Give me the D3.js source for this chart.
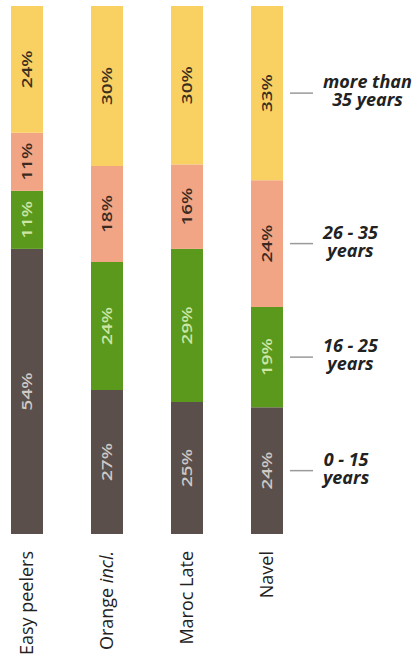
<!DOCTYPE html>
<html>
<head>
<meta charset="utf-8">
<script src="https://cdn.jsdelivr.net/npm/d3@7"></script>
<style>
  html, body { margin: 0; padding: 0; background: #fff; }
  svg { display: block; font-family: "Open Sans", "Noto Sans", sans-serif; }
</style>
</head>
<body>
<svg id="chart" width="416" height="663"></svg>
<script>
// Varieties (bars) and an optional italic qualifier after the name
const categories = ["Easy peelers", "Orange", "Maroc Late", "Navel"];
const qualifiers = ["", "incl.", "", ""];

// Orchard age groups, bottom to top, with their legend lines
const ageKeys = ["a0_15", "a16_25", "a26_35", "a35plus"];
const ageLabels = [["0 - 15", "years"], ["16 - 25", "years"], ["26 - 35", "years"], ["more than", "35 years"]];

// Share of trees per age group (%)
const age0to15   = [54, 27, 25, 24];
const age16to25  = [11, 24, 29, 19];
const age26to35  = [11, 18, 16, 24];
const ageOver35  = [24, 30, 30, 33];

const fills     = ["#5a4f4a", "#5b991d", "#f1a584", "#f9d162"];
const textFills = ["#cfc8c4", "#cde6a4", "#3b2a22", "#3b3020"];

const rows = categories.map((c, i) => ({
  cat: c,
  a0_15: age0to15[i], a16_25: age16to25[i], a26_35: age26to35[i], a35plus: ageOver35[i]
}));

const svg = d3.select("#chart");

const x = d3.scaleBand().domain(categories).range([11, 283]).paddingInner(0.6).paddingOuter(0);
const y = d3.scaleLinear().domain([0, 1]).range([534, 6]);

const series = d3.stack().keys(ageKeys).offset(d3.stackOffsetExpand)(rows);

const layers = svg.selectAll("g.layer").data(series).join("g")
  .attr("class", "layer")
  .attr("fill", (d, i) => fills[i]);

layers.selectAll("rect").data(d => d).join("rect")
  .attr("x", d => x(d.data.cat))
  .attr("width", x.bandwidth())
  .attr("y", d => y(d[1]))
  .attr("height", d => y(d[0]) - y(d[1]));

// Value labels, rotated and stretched along the bar
series.forEach((s, si) => {
  svg.append("g").selectAll("text").data(s).join("text")
    .attr("transform", d => `translate(${x(d.data.cat) + x.bandwidth() / 2},${(y(d[0]) + y(d[1])) / 2}) rotate(-90) scale(1.35,1)`)
    .attr("text-anchor", "middle")
    .attr("dy", "0.36em")
    .attr("font-size", 14)
    .attr("font-weight", 600)
    .attr("fill", textFills[si])
    .text(d => d.data[s.key] + "%");
});

// Category labels under the bars
const catLabels = svg.append("g").selectAll("text").data(categories).join("text")
  .attr("transform", d => `translate(${x(d) + x.bandwidth() / 2},551) rotate(-90)`)
  .attr("text-anchor", "end")
  .attr("dy", "0.35em")
  .attr("font-size", 18)
  .attr("fill", "#222");
catLabels.append("tspan").text((d, i) => d + (qualifiers[i] ? " " : ""));
catLabels.append("tspan").attr("font-style", "italic").text((d, i) => qualifiers[i]);

// Legend aligned with the segments of the last bar
const lastSeries = series.map(s => s[s.length - 1]);
const legend = svg.append("g").selectAll("g").data(lastSeries).join("g")
  .attr("transform", d => `translate(0,${(y(d[0]) + y(d[1])) / 2})`);

legend.append("line")
  .attr("x1", 290).attr("x2", 313)
  .attr("stroke", "#9a9a9a").attr("stroke-width", 1.5);

// Two-line captions: each line centred within a left-aligned block
legend.each(function (d, i) {
  const g = d3.select(this);
  const lines = ageLabels[i].map((line, li) => g.append("text")
    .attr("y", li === 0 ? -5 : 13)
    .attr("font-size", 18)
    .attr("font-weight", 700)
    .attr("font-style", "italic")
    .attr("fill", "#222")
    .attr("text-anchor", "middle")
    .text(line));
  const w = d3.max(lines, s => s.node().getComputedTextLength());
  lines.forEach(s => s.attr("x", 323 + w / 2));
});
</script>
</body>
</html>
